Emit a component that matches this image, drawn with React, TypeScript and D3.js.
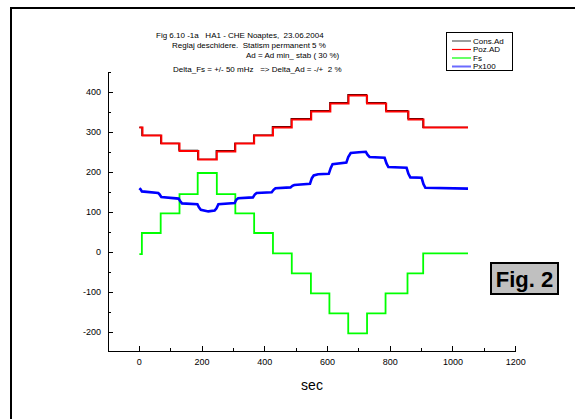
import React, { useEffect, useRef } from "react";
import * as d3 from "d3";

const FONT = "'Liberation Sans', Arial, sans-serif";

// step series: time (sec) where a level starts, and the level
const FS_T = [0, 8, 68, 128, 186, 247, 306, 366, 426, 486, 547, 606, 666, 726, 785, 855, 905, 1048];
const FS_V = [-5, 48, 97, 145, 198, 145, 97, 48, -3, -53, -103, -153, -203, -153, -103, -53, -3, -3];

const POZ_T = [0, 10, 70, 128, 188, 247, 306, 366, 426, 486, 548, 609, 667, 726, 787, 858, 906, 1048];
const POZ_V = [312, 292, 272, 253, 232, 252, 272, 292, 312, 332, 352, 372, 392, 372, 352, 332, 312, 312];

const CONS_T = [0, 8, 68, 126, 186, 245, 304, 364, 424, 484, 546, 607, 665, 724, 785, 856, 904, 1048];
const CONS_V = [312, 292, 272, 255, 232, 254, 272, 293, 314, 334, 354, 374, 394, 374, 354, 334, 312, 312];

// Px100, read as points along the trace
const PX_T = [0, 4, 8, 60, 64, 70, 125, 130, 136, 185, 190, 196, 220, 240, 246, 252, 304, 309, 315, 362, 368, 374,
  422, 428, 434, 482, 488, 494, 544, 550, 556, 570, 604, 610, 616, 660, 666, 674, 700, 722, 728, 734, 782, 788, 794,
  852, 858, 864, 900, 906, 912, 1048];
const PX_V = [160, 157, 152, 148, 145, 138, 134, 128, 122, 120, 112, 106, 102, 104, 110, 120, 123, 131, 135, 137, 144, 148,
  150, 156, 160, 162, 166, 168, 171, 185, 192, 195, 196, 210, 220, 224, 238, 248, 250, 251, 243, 238, 236, 222, 213,
  211, 196, 187, 186, 170, 161, 159];

const X_TICKS = [0, 200, 400, 600, 800, 1000, 1200];
const X_MINOR = [-100, 100, 300, 500, 700, 900, 1100];
const Y_TICKS = [-200, -100, 0, 100, 200, 300, 400];
const Y_MINOR = [-150, -50, 50, 150, 250, 350, 450];

const TITLE = [
  "Fig 6.10 -1a   HA1 - CHE Noaptes,  23.06.2004",
  "Reglaj deschidere.  Statism permanent 5 %",
  "Ad = Ad min_ stab ( 30 %)",
  "Delta_Fs = +/- 50 mHz   => Delta_Ad = -/+  2 %",
];

const LEGEND = [
  { name: "Cons.Ad", color: "#5a5a5a" },
  { name: "Poz.AD", color: "#ff0000" },
  { name: "Fs", color: "#00ff00" },
  { name: "Px100", color: "#6b6bff" },
];

export default function App() {
  const svgRef = useRef<SVGSVGElement | null>(null);

  useEffect(() => {
    const svg = d3.select(svgRef.current);
    svg.selectAll("*").remove();

    const x = d3.scaleLinear().domain([-100, 1200]).range([108, 515.7]);
    const y = d3.scaleLinear().domain([-247, 450]).range([351, 72.2]);

    // frame
    svg.append("rect").attr("x", 11).attr("y", 8).attr("width", 700).attr("height", 500)
      .attr("fill", "#fff").attr("stroke", "#000").attr("stroke-width", 2);

    // title
    const titlePos = [[156, 38], [172, 48], [246, 58], [173, 72]];
    svg.append("g").selectAll("text").data(TITLE).enter().append("text")
      .attr("x", (_, i) => titlePos[i][0]).attr("y", (_, i) => titlePos[i][1])
      .attr("font-family", FONT).attr("font-size", 8).attr("fill", "#000")
      .style("white-space", "pre")
      .text(d => d);

    // axes
    const ax = svg.append("g").attr("stroke", "#000").attr("stroke-width", 1).attr("shape-rendering", "crispEdges");
    ax.append("line").attr("x1", x(-100)).attr("x2", x(1200)).attr("y1", y(-247)).attr("y2", y(-247));
    ax.append("line").attr("x1", x(-100)).attr("x2", x(-100)).attr("y1", y(-247)).attr("y2", y(450));
    ax.selectAll("line.xt").data(X_TICKS).enter().append("line").attr("class", "xt")
      .attr("x1", d => x(d)).attr("x2", d => x(d)).attr("y1", y(-247)).attr("y2", y(-247) - 5);
    ax.selectAll("line.xm").data(X_MINOR).enter().append("line").attr("class", "xm")
      .attr("x1", d => x(d)).attr("x2", d => x(d)).attr("y1", y(-247)).attr("y2", y(-247) - 3);
    ax.selectAll("line.yt").data(Y_TICKS).enter().append("line").attr("class", "yt")
      .attr("x1", x(-100)).attr("x2", x(-100) + 5).attr("y1", d => y(d)).attr("y2", d => y(d));
    ax.selectAll("line.ym").data(Y_MINOR).enter().append("line").attr("class", "ym")
      .attr("x1", x(-100)).attr("x2", x(-100) + 3).attr("y1", d => y(d)).attr("y2", d => y(d));

    const lab = svg.append("g").attr("font-family", FONT).attr("font-size", 9).attr("fill", "#000");
    lab.selectAll("text.xl").data(X_TICKS).enter().append("text").attr("class", "xl")
      .attr("x", d => x(d)).attr("y", y(-247) + 14).attr("text-anchor", "middle").text(d => d);
    lab.selectAll("text.yl").data(Y_TICKS).enter().append("text").attr("class", "yl")
      .attr("x", x(-100) - 7).attr("y", d => y(d) + 3.2).attr("text-anchor", "end").text(d => d);

    svg.append("text").attr("x", 312).attr("y", 390).attr("text-anchor", "middle")
      .attr("font-family", FONT).attr("font-size", 14).text("sec");

    // series
    const plot = (ts: number[], vs: number[], color: string, w: number, curve = d3.curveStepAfter) => {
      const line = d3.line<number>().x(d => x(ts[d])).y(d => y(vs[d])).curve(curve);
      svg.append("path").attr("d", line(d3.range(ts.length)))
        .attr("fill", "none").attr("stroke", color).attr("stroke-width", w)
        .attr("stroke-linejoin", "miter");
    };
    plot(CONS_T, CONS_V, "#000", 1.1);
    plot(POZ_T, POZ_V, "#ff0000", 2);
    plot(FS_T, FS_V, "#00ff00", 1.8);
    plot(PX_T, PX_V, "#0000ff", 2.6, d3.curveLinear);

    // legend
    const lg = svg.append("g");
    lg.append("rect").attr("x", 446).attr("y", 32).attr("width", 66).attr("height", 38)
      .attr("fill", "#fff").attr("stroke", "#000").attr("stroke-width", 1).attr("shape-rendering", "crispEdges");
    LEGEND.forEach((d, i) => {
      const ly = 41 + i * 8.5;
      lg.append("line").attr("x1", 452).attr("x2", 471).attr("y1", ly).attr("y2", ly)
        .attr("stroke", d.color).attr("stroke-width", i === 3 ? 2 : 1.2);
      lg.append("text").attr("x", 473).attr("y", ly + 2.8).attr("font-family", FONT)
        .attr("font-size", 8).text(d.name);
    });

    // Fig. 2 box
    svg.append("rect").attr("x", 491).attr("y", 263).attr("width", 67).attr("height", 31)
      .attr("fill", "#c0c0c0").attr("stroke", "#000").attr("stroke-width", 2);
    svg.append("text").attr("x", 524.5).attr("y", 286.5).attr("text-anchor", "middle")
      .attr("font-family", FONT).attr("font-weight", "bold").attr("font-size", 22).text("Fig. 2");
  }, []);

  return <svg ref={svgRef} width={575} height={419}
    style={{ position: "absolute", left: 0, top: 0, background: "#fff" }} />;
}
